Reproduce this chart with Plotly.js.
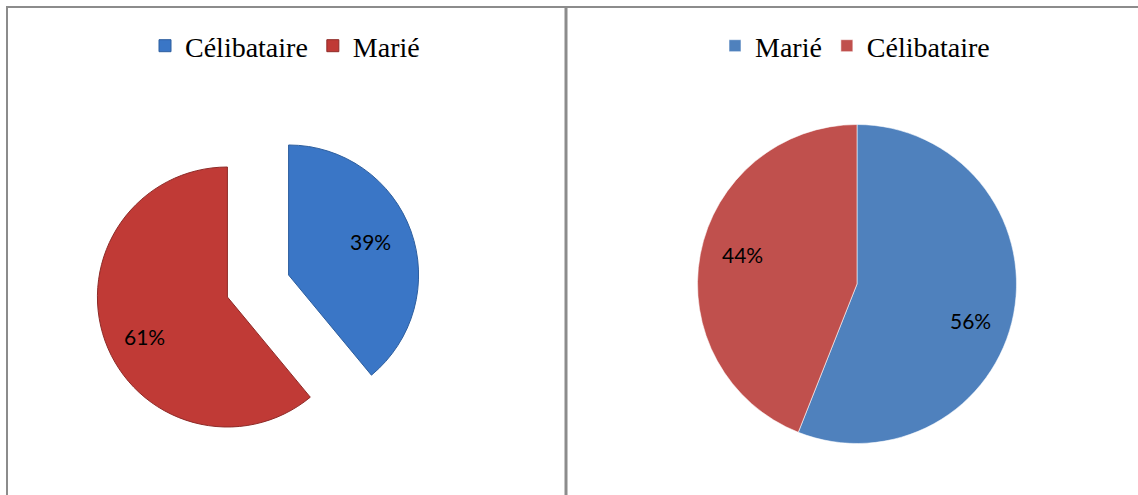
<!DOCTYPE html>
<html>
<head>
<meta charset="utf-8">
<script src="https://cdn.plot.ly/plotly-3.0.1.min.js"></script>
<style>html,body{margin:0;padding:0;background:#fff;}#chart{width:1138px;height:495px;}</style>
</head>
<body>
<div id="chart"></div>
<script>
// Left chart data
const leftLabels = ['Célibataire', 'Marié'];
const leftValues = [39, 61];
const leftColors = ['#3a76c6', '#c03a36'];
// Right chart data
const rightLabels = ['Marié', 'Célibataire'];
const rightValues = [56, 44];
const rightColors = ['#4f81bd', '#c0504d'];

const W = 1138, H = 495;
function px2x(p) { return p / W; }
function px2y(p) { return 1 - p / H; }

// pie geometry (layout only); nudge = per-label pixel offsets of the percentage text
const L = {cx: 258, cy: 286, r: 130, pull: 0.25, frac: 0.69, nudge: [[-2, -3], [1, 9]]};
const R = {cx: 857, cy: 284, r: 159.5, pull: 0, frac: 0.74, nudge: [[-2, 14], [1, -7]]};

const pctFont = {family: 'Lato, "Open Sans", sans-serif', size: 21, color: '#000'};

function pieDomain(g) {
  const half = g.r * (1 + g.pull);
  return {x: [px2x(g.cx - half), px2x(g.cx + half)], y: [px2y(g.cy + half), px2y(g.cy - half)]};
}

// percentage labels placed along each slice's mid angle (derived from the values)
function pctAnnotations(values, g) {
  const total = values.reduce((a, b) => a + b, 0);
  let cum = 0;
  return values.map((v, i) => {
    const mid = (cum + v / 2) / total * 2 * Math.PI; // clockwise from 12 o'clock
    cum += v;
    const d = g.r * (g.pull + g.frac);
    const x = g.cx + d * Math.sin(mid) + g.nudge[i][0];
    const y = g.cy - d * Math.cos(mid) + g.nudge[i][1];
    return {
      xref: 'paper', yref: 'paper', x: px2x(x), y: px2y(y),
      xanchor: 'center', yanchor: 'middle', showarrow: false,
      text: Math.round(v / total * 100) + '%', font: pctFont
    };
  });
}

const traces = [
  {
    type: 'pie',
    labels: leftLabels,
    values: leftValues,
    sort: false,
    direction: 'clockwise',
    rotation: 0,
    pull: leftValues.map(() => L.pull),
    marker: {colors: leftColors, line: {color: ['#2d5e9e', '#8e2a27'], width: 1}},
    textinfo: 'none',
    domain: pieDomain(L),
    legend: 'legend',
    legendgroup: 'left',
    hoverinfo: 'label+percent'
  },
  {
    type: 'pie',
    labels: rightLabels,
    values: rightValues,
    sort: false,
    direction: 'clockwise',
    rotation: 0,
    marker: {colors: rightColors, line: {color: 'rgba(255,255,255,0.7)', width: 0.8}},
    textinfo: 'none',
    domain: pieDomain(R),
    legend: 'legend2',
    legendgroup: 'right',
    hoverinfo: 'label+percent'
  }
];

const legendFont = {family: '"Liberation Serif", "Times New Roman", serif', size: 28, color: '#000'};
const lineColor = '#8c8c8c';

const layout = {
  width: W,
  height: H,
  margin: {l: 0, r: 0, t: 0, b: 0},
  paper_bgcolor: '#ffffff',
  plot_bgcolor: '#ffffff',
  showlegend: true,
  legend: {
    orientation: 'h', x: px2x(285), xanchor: 'center', y: px2y(46), yanchor: 'middle',
    font: legendFont, bgcolor: 'rgba(0,0,0,0)', traceorder: 'normal', itemwidth: 30
  },
  legend2: {
    orientation: 'h', x: px2x(855), xanchor: 'center', y: px2y(46), yanchor: 'middle',
    font: legendFont, bgcolor: 'rgba(0,0,0,0)', traceorder: 'normal', itemwidth: 30
  },
  annotations: pctAnnotations(leftValues, L).concat(pctAnnotations(rightValues, R)),
  shapes: [
    {type: 'line', xref: 'paper', yref: 'paper', x0: px2x(6), x1: 1, y0: px2y(7), y1: px2y(7), line: {color: lineColor, width: 2}},
    {type: 'line', xref: 'paper', yref: 'paper', x0: px2x(7), x1: px2x(7), y0: px2y(6), y1: 0, line: {color: lineColor, width: 2}},
    {type: 'line', xref: 'paper', yref: 'paper', x0: px2x(566), x1: px2x(566), y0: px2y(6), y1: 0, line: {color: lineColor, width: 3}}
  ]
};

Plotly.newPlot('chart', traces, layout, {displayModeBar: false, staticPlot: true});
</script>
</body>
</html>
